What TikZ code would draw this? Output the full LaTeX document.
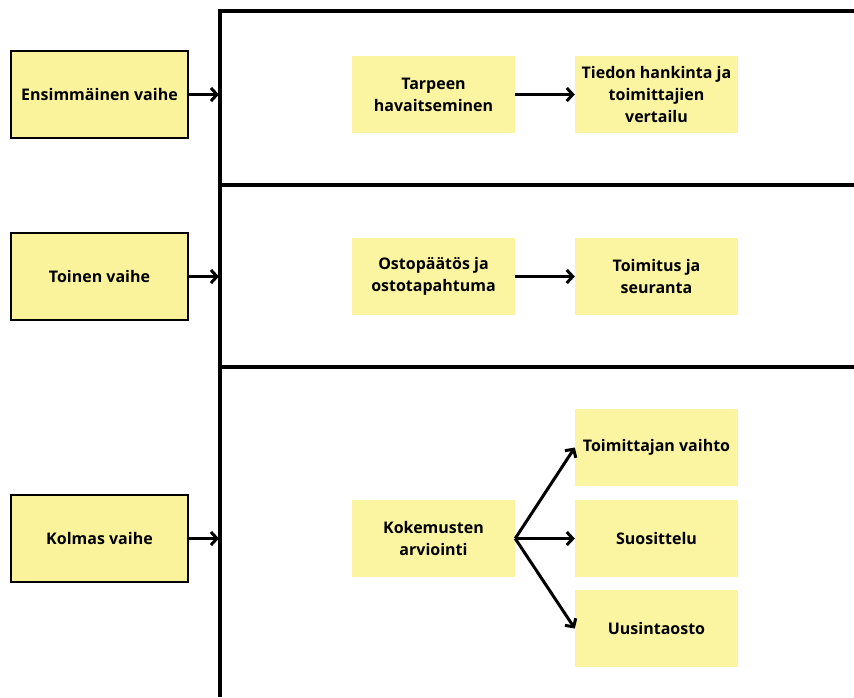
\documentclass[tikz,border=0pt]{standalone}
\usepackage{fontspec}
\setmainfont{Open Sans}
\usetikzlibrary{arrows.meta}
\definecolor{vaihekeltainen}{HTML}{FBF39B}
\definecolor{laatikkokeltainen}{HTML}{FBF4A0}
\tikzset{
	vaihe/.style={draw=black, line width=1.8pt, fill=vaihekeltainen, minimum width=177pt, minimum height=87pt, font=\fontsize{16}{22}\selectfont\bfseries},
	askel/.style={fill=laatikkokeltainen, minimum width=163pt, minimum height=77pt, align=center, font=\fontsize{16}{22}\selectfont\bfseries},
	nuoli/.style={line width=3pt, -{Straight Barb[length=6pt,width=13pt]}},
	kehys/.style={line width=3.5pt}
}
\begin{document}
\begin{tikzpicture}[x=1pt, y=-1pt]
				\useasboundingbox (0,0) rectangle (854,697);
				
				% kehys
				\draw[kehys] (854,11) -- (220,11) -- (220,697);
				\draw[kehys] (220,185) -- (854,185);
				\draw[kehys] (220,367) -- (854,367);
				
				% vaiheet
				\node[vaihe] (ensimmainen) at (99.5,94.5) {Ensimmäinen vaihe};
				\node[vaihe] (toinen) at (99.5,276.5) {Toinen vaihe};
				\node[vaihe] (kolmas) at (99.5,538.5) {Kolmas vaihe};
				\coordinate (k1) at (219,94.5);
				\coordinate (k2) at (219,276.5);
				\coordinate (k3) at (219,538.5);
				\draw[nuoli] (ensimmainen) -- (k1);
				\draw[nuoli] (toinen) -- (k2);
				\draw[nuoli] (kolmas) -- (k3);
				
				% askeleet
				\node[askel] (tarve) at (433.5,94.5) {Tarpeen\\havaitseminen};
				\node[askel] (tieto) at (656.5,94.5) {Tiedon hankinta ja\\toimittajien\\vertailu};
				\node[askel] (osto) at (433.5,276.5) {Ostopäätös ja\\ostotapahtuma};
				\node[askel] (toimitus) at (656.5,276.5) {Toimitus ja\\seuranta};
				\node[askel] (arviointi) at (433.5,538.5) {Kokemusten\\arviointi};
				\node[askel] (vaihto) at (656.5,447.5) {Toimittajan vaihto};
				\node[askel] (suositus) at (656.5,538.5) {Suosittelu};
				\node[askel] (uusinta) at (656.5,628.5) {Uusintaosto};
				
				\draw[nuoli] (tarve) -- (tieto);
				\draw[nuoli] (osto) -- (toimitus);
				\draw[nuoli] (arviointi.east) -- (vaihto.west);
				\draw[nuoli] (arviointi.east) -- (suositus.west);
				\draw[nuoli] (arviointi.east) -- (uusinta.west);
			\end{tikzpicture}
\end{document}
